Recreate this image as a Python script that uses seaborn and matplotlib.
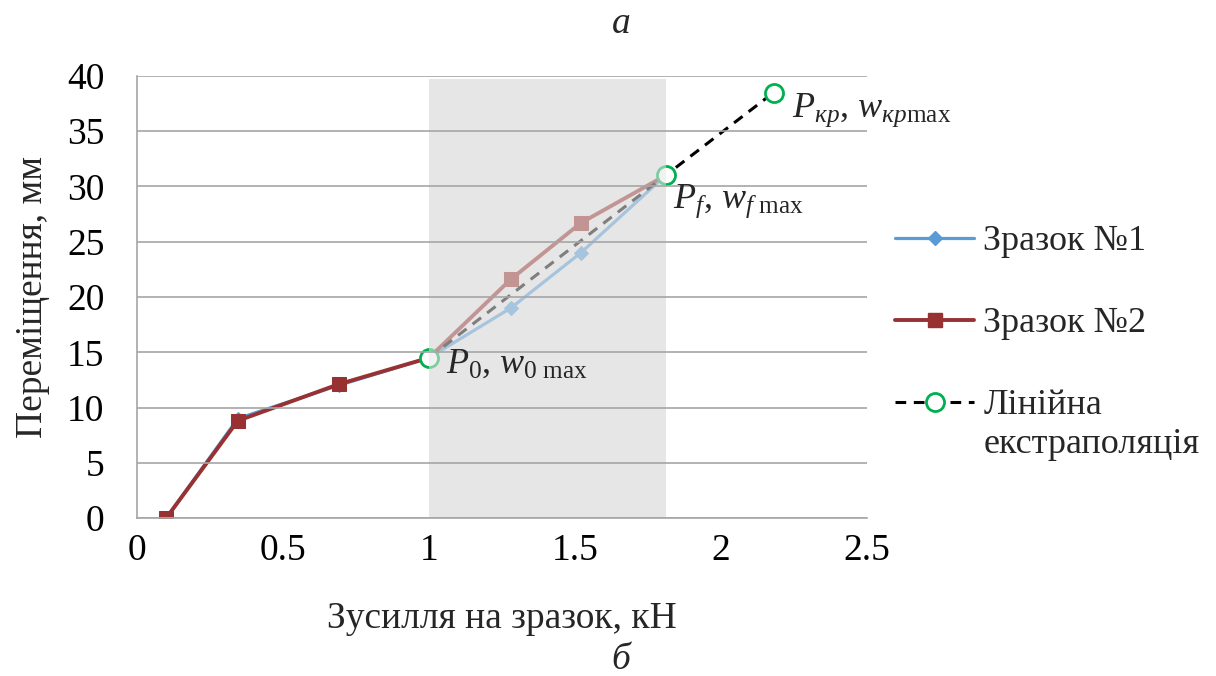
import matplotlib
matplotlib.use("Agg")
import matplotlib.pyplot as plt
import seaborn as sns
import pandas as pd
from matplotlib.lines import Line2D

sns.set_theme(style="white")
plt.rcParams['font.family'] = ['Liberation Serif', 'DejaVu Serif']
plt.rcParams['mathtext.fontset'] = 'custom'
plt.rcParams['mathtext.rm'] = 'Liberation Serif'
plt.rcParams['mathtext.it'] = 'Liberation Serif:italic'

# data
force1 = [0.1, 0.345, 0.69, 1.0, 1.28, 1.52, 1.81]
disp1 = [0.0, 9.0, 12.0, 14.5, 19.0, 24.0, 31.0]
force2 = [0.1, 0.345, 0.69, 1.0, 1.28, 1.52, 1.81]
disp2 = [0.0, 8.8, 12.1, 14.5, 21.6, 26.7, 31.0]
force_ext = [1.0, 1.81, 2.18]
disp_ext = [14.5, 31.0, 38.5]
shade_x = [1.0, 1.81]
shade_top = 39.7
labels = ["Зразок №1", "Зразок №2", "Лінійна\nекстраполяція"]
xticks = [0, 0.5, 1, 1.5, 2, 2.5]
yticks = [0, 5, 10, 15, 20, 25, 30, 35, 40]

blue = "#5b9bd5"
red = "#983232"
green = "#00b050"
FS = 27
LFS = 26

df1 = pd.DataFrame({"x": force1, "y": disp1})
df2 = pd.DataFrame({"x": force2, "y": disp2})
dfe = pd.DataFrame({"x": force_ext, "y": disp_ext})

fig = plt.figure(figsize=(12.16, 6.76), dpi=100)
ax = fig.add_axes([0.1127, 0.2337, 0.6003, 0.6539])

# background of shaded region
ax.axvspan(shade_x[0], shade_x[1], ymin=0, ymax=shade_top / 40, color="#e6e6e6", zorder=0.3, lw=0)

sns.lineplot(data=df1, x="x", y="y", ax=ax, sort=False, color=blue, lw=2.3,
             marker="D", markersize=7, markeredgecolor=blue, zorder=1.05)
sns.lineplot(data=df2, x="x", y="y", ax=ax, sort=False, color=red, lw=2.8,
             marker="s", markersize=10, markeredgecolor=red, zorder=1.06)
sns.lineplot(data=dfe, x="x", y="y", ax=ax, sort=False, color="black", lw=2.2,
             linestyle=(0, (3.5, 2.5)), marker="o", markersize=13, markerfacecolor="white",
             markeredgecolor=green, markeredgewidth=2, zorder=1.1)

# overlay that fades the lines inside the shaded region
ax.axvspan(shade_x[0], shade_x[1], ymin=0, ymax=shade_top / 40, color="#e6e6e6", alpha=0.55, zorder=1.2, lw=0)

ax.set_xlim(0, 2.5)
ax.set_ylim(0, 40)
ax.set_xticks(xticks)
ax.set_yticks(yticks)
ax.set_xticklabels([f"{t:g}" for t in xticks])
ax.set_yticklabels([f"{t:g}" for t in yticks])
ax.set_axisbelow('line')
ax.yaxis.grid(True, color="#a6a6a6", lw=1.2)
ax.xaxis.grid(False)
for s in ["top", "right"]:
    ax.spines[s].set_visible(False)
for s in ["left", "bottom"]:
    ax.spines[s].set_color("#a6a6a6")
    ax.spines[s].set_linewidth(1.2)
ax.tick_params(axis="both", direction="out", width=1.2, color="#a6a6a6",
               labelsize=FS, labelcolor="black")
ax.tick_params(axis="y", length=8.5, pad=15)
ax.tick_params(axis="x", length=7, pad=4)
ax.set_xlabel("Зусилля на зразок, кН", fontsize=FS, labelpad=24)
ax.set_ylabel("Переміщення, мм", fontsize=FS, labelpad=12)

ax.annotate(r"$P_0$, $w_{0\ \mathrm{max}}$", xy=(force_ext[0], disp_ext[0]),
            xytext=(17, -6), textcoords="offset pixels", ha="left", va="center", fontsize=LFS, zorder=5)
ax.annotate(r"$P_f$, $w_{f\ \mathrm{max}}$", xy=(force_ext[1], disp_ext[1]),
            xytext=(7, -26), textcoords="offset pixels", ha="left", va="center", fontsize=LFS, zorder=5)
ax.annotate(r"$P_{кр}$, $w_{кр\mathrm{max}}$", xy=(force_ext[2], disp_ext[2]),
            xytext=(18, -18), textcoords="offset pixels", ha="left", va="center", fontsize=LFS, zorder=5)

fig.text(621 / 1216, 1 - 24 / 676, "а", style="italic", fontsize=FS, ha="center", va="center")
fig.text(621 / 1216, 1 - 660 / 676, "б", style="italic", fontsize=FS, ha="center", va="center")

handles = [
    Line2D([], [], color=blue, lw=2.3, marker="D", markersize=7),
    Line2D([], [], color=red, lw=2.8, marker="s", markersize=10),
    Line2D([], [], color="black", lw=2.2, linestyle=(0, (3.5, 2.5)), marker="o", markersize=13,
           markerfacecolor="white", markeredgecolor=green, markeredgewidth=2),
]
first_lines = [lab.split("\n")[0] for lab in labels]
leg = ax.legend(handles, first_lines, loc="upper left", bbox_to_anchor=(895 / 1216, 1 - 225 / 676),
                bbox_transform=fig.transFigure, frameon=False, fontsize=LFS, handlelength=2.2,
                handletextpad=0.25, labelspacing=1.35, borderaxespad=0, borderpad=0)
# continuation line of the multi-line legend label (drawn after the legend is laid out)
ax.annotate(labels[2].split("\n")[1], xy=(0, 0), xycoords=leg.get_texts()[2],
            xytext=(0, -6), textcoords="offset pixels", ha="left", va="top", fontsize=LFS,
            zorder=10, annotation_clip=False)

fig.savefig("out.png", dpi=100)
